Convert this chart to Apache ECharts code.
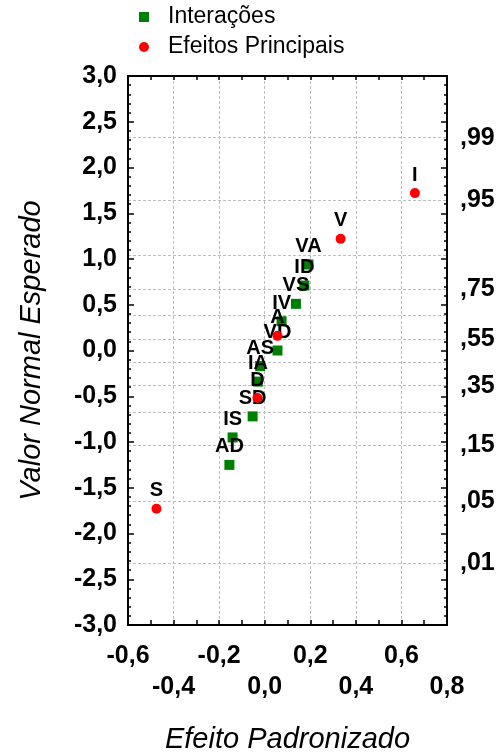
<!DOCTYPE html>
<html>
<head>
<meta charset="utf-8">
<script src="https://cdn.jsdelivr.net/npm/echarts@6/dist/echarts.min.js"></script>
<style>html,body{margin:0;padding:0;background:#fff}#c{width:502px;height:754px}</style>
</head>
<body>
<div id="c"></div>
<script>
// ---- data ----
var interLabels = ['AD', 'IS', 'SD', 'IA', 'AS', 'VD', 'IV', 'VS', 'ID', 'VA'];
var interX = [-0.155, -0.141, -0.053, -0.030, -0.020, 0.056, 0.074, 0.137, 0.174, 0.192];
var interY = [-1.25, -0.95, -0.72, -0.34, -0.17, 0.00, 0.32, 0.51, 0.71, 0.94];
var mainLabels = ['S', 'D', 'A', 'V', 'I'];
var mainX = [-0.475, -0.032, 0.056, 0.333, 0.659];
var mainY = [-1.73, -0.52, 0.16, 1.22, 1.72];
var seriesNames = ['Interações', 'Efeitos Principais'];
// right axis: expected cumulative probability labels at their normal quantiles
var probLabelZ = [2.326, 1.645, 0.674, 0.126, -0.385, -1.036, -1.645, -2.326];
var probLabels = [',99', ',95', ',75', ',55', ',35', ',15', ',05', ',01'];
var probGridZ = [2.326, 1.645, 1.036, 0.674, 0.385, 0.126, -0.126, -0.385, -0.674, -1.036, -1.645, -2.326];
var xTitle = 'Efeito Padronizado';
var yTitle = 'Valor Normal Esperado';

function pts(xs, ys, names) {
  return xs.map(function (x, i) { return { name: names[i], value: [x, ys[i]] }; });
}
function comma(v) { return (Math.abs(v) < 1e-9 ? 0 : v).toFixed(1).replace('.', ','); }

var FONT = 'Liberation Sans, Arial, sans-serif';
var tickLabel = { color: '#000', fontFamily: FONT, fontWeight: 'bold', fontSize: 25 };
var lineStyle = { color: '#000', width: 2 };
var pointLabel = { show: true, position: 'top', distance: 3, formatter: '{b}', color: '#000',
  opacity: 1, textBorderWidth: 0, fontFamily: FONT, fontWeight: 'bold', fontSize: 20 };

var chart = echarts.init(document.getElementById('c'), null, { renderer: 'canvas' });
chart.setOption({
  animation: false,
  backgroundColor: '#fff',
  legend: {
    orient: 'vertical', left: 134, top: 0,
    itemWidth: 10, itemHeight: 10, itemGap: 6,
    textStyle: { fontFamily: FONT, fontSize: 23, color: '#000', lineHeight: 24, padding: [0, 0, 0, 14] },
    data: [{ name: seriesNames[0], icon: 'rect', itemStyle: { opacity: 1 } },
           { name: seriesNames[1], icon: 'circle', itemStyle: { opacity: 1 } }]
  },
  grid: { left: 128, right: 55, top: 76, bottom: 129, containLabel: false, outerBoundsMode: 'none' },
  xAxis: [{
    type: 'value', position: 'bottom', min: -0.6, max: 0.8, interval: 0.2,
    axisLine: { show: true, onZero: false, lineStyle: lineStyle },
    axisTick: { show: true, inside: true, length: 5, lineStyle: { color: '#000', width: 1.5 } },
    minorTick: { show: true, splitNumber: 2, length: 5, lineStyle: { color: '#000', width: 1.5 } },
    axisLabel: {
      show: true, margin: 16, lineHeight: 31, showMinLabel: true, showMaxLabel: true,
      color: '#000', fontFamily: FONT, fontWeight: 'bold', fontSize: 25,
      formatter: function (v) {
        var k = Math.round((v + 0.6) / 0.2);
        return (k % 2 === 0 ? '' : '\n') + comma(v);
      }
    },
    splitLine: { show: true, lineStyle: { color: '#bdbdbd', width: 1, type: [3, 2] } },
    name: xTitle, nameLocation: 'middle', nameGap: 100,
    nameTextStyle: { color: '#000', fontFamily: FONT, fontStyle: 'italic', fontSize: 29 }
  }, {
    type: 'value', position: 'top', min: -0.6, max: 0.8, interval: 0.2,
    axisLine: { show: true, onZero: false, lineStyle: lineStyle },
    axisTick: { show: true, inside: true, length: 4, lineStyle: { color: '#000', width: 1.5 } },
    minorTick: { show: true, splitNumber: 2, length: 4, lineStyle: { color: '#000', width: 1.5 } },
    axisLabel: { show: false }, splitLine: { show: false }
  }],
  yAxis: [{
    type: 'value', position: 'left', min: -3, max: 3, interval: 0.5,
    axisLine: { show: true, onZero: false, lineStyle: lineStyle },
    axisTick: { show: true, inside: true, length: 6, lineStyle: { color: '#000', width: 1.5 } },
    minorTick: { show: true, splitNumber: 5, length: 3, lineStyle: { color: '#000', width: 1.5 } },
    axisLabel: Object.assign({ margin: 11, formatter: comma, showMinLabel: true, showMaxLabel: true }, tickLabel),
    splitLine: { show: false },
    name: yTitle, nameLocation: 'middle', nameGap: 82, nameRotate: 90,
    nameTextStyle: { color: '#000', fontFamily: FONT, fontStyle: 'italic', fontSize: 29 }
  }, {
    type: 'value', position: 'right', min: -3, max: 3, interval: 0.5,
    axisLine: { show: true, onZero: false, lineStyle: lineStyle },
    axisTick: { show: true, inside: true, length: 6, lineStyle: { color: '#000', width: 1.5 } },
    minorTick: { show: true, splitNumber: 5, length: 3, lineStyle: { color: '#000', width: 1.5 } },
    axisLabel: Object.assign({
      margin: 13, customValues: probLabelZ,
      formatter: function (v) {
        var best = 0;
        for (var i = 1; i < probLabelZ.length; i++) {
          if (Math.abs(probLabelZ[i] - v) < Math.abs(probLabelZ[best] - v)) best = i;
        }
        return probLabels[best];
      }
    }, tickLabel),
    splitLine: { show: false }
  }, {
    type: 'value', position: 'right', min: -3, max: 3,
    axisLine: { show: false },
    axisTick: { show: false, customValues: probGridZ },
    axisLabel: { show: false },
    splitLine: { show: true, lineStyle: { color: '#bdbdbd', width: 1, type: [3, 2] } }
  }],
  series: [{
    name: seriesNames[0], type: 'scatter', xAxisIndex: 0, yAxisIndex: 0,
    symbol: 'rect', symbolSize: 10,
    itemStyle: { color: '#008000', opacity: 1 },
    label: pointLabel,
    emphasis: { disabled: true },
    data: pts(interX, interY, interLabels), z: 3
  }, {
    name: seriesNames[1], type: 'scatter', xAxisIndex: 0, yAxisIndex: 0,
    symbol: 'circle', symbolSize: 10,
    itemStyle: { color: '#ff0000', opacity: 1 },
    label: pointLabel,
    emphasis: { disabled: true },
    data: pts(mainX, mainY, mainLabels), z: 4
  }]
});
</script>
</body>
</html>
